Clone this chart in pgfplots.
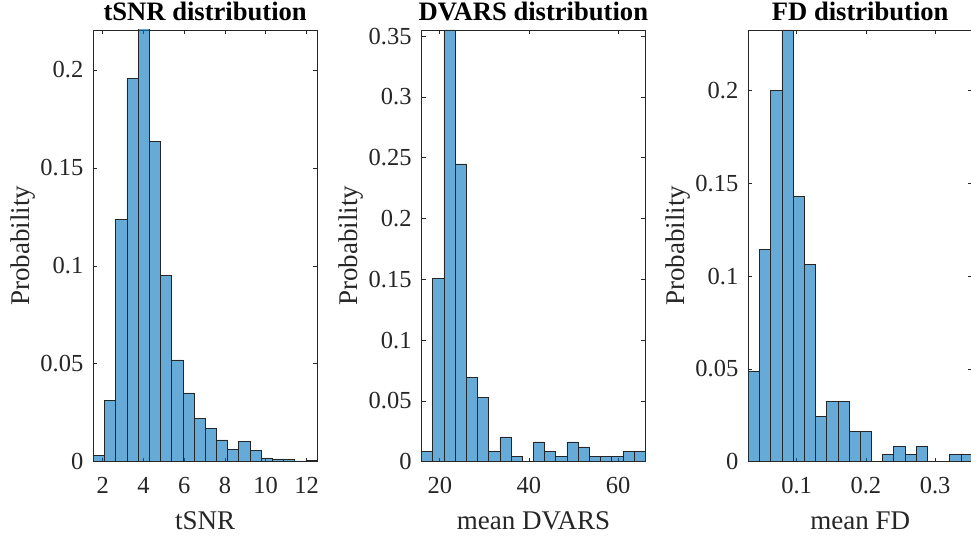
\documentclass[border=0pt]{standalone}
\usepackage{fontspec}
\setmainfont{Liberation Serif}
\usepackage{pgfplots}
\pgfplotsset{compat=1.18}
\definecolor{matblue}{rgb}{0,0.447,0.741}
\definecolor{axgray}{rgb}{0.15,0.15,0.15}
\pgfplotsset{
  histax/.style={
    scale only axis, width=223.8pt, height=431.7pt,
    anchor=south west,
    axis line style={axgray, line width=0.6pt},
    tick style={axgray, line width=0.6pt},
    major tick length=4pt,
    tick align=inside,
    xtick pos=both, ytick pos=both,
    ymin=0,
    scaled ticks=false,
    /pgf/number format/assume math mode=true,
    tick label style={font=\fontsize{24.5}{28}\selectfont, text=axgray},
    yticklabel style={anchor=east, inner sep=0pt, xshift=-9.8pt},
    xticklabel style={anchor=base, inner sep=0pt, yshift=-32.3pt},
    label style={font=\fontsize{27}{30}\selectfont, text=axgray},
    xlabel style={at={(axis description cs:0.5,-0.1582)}, anchor=base},
    ylabel style={at={(axis description cs:-0.2855,0.5)}, anchor=base},
    every axis title/.style={font=\bfseries\fontsize{26.6}{30}\selectfont, text=black, inner sep=0pt, at={(axis description cs:0.5,1.0225)}, anchor=base},
    ylabel={Probability},
  },
  histbar/.style={ybar interval, fill=matblue, fill opacity=0.6, draw=axgray, draw opacity=1, line width=0.6pt},
}
\begin{document}
\begin{tikzpicture}
\path[use as bounding box] (0,0) rectangle (971pt,540pt);
% Panel 1: tSNR
\begin{axis}[histax, at={(93.3pt,78.3pt)},
  xmin=1.54, xmax=12.52, ymax=0.2204,
  xtick={2,4,6,8,10,12}, xticklabels={2,4,6,8,10,12},
  ytick={0,0.05,0.1,0.15,0.2}, yticklabels={0,0.05,0.1,0.15,0.2},
  title={tSNR distribution}, xlabel={tSNR}]
\addplot[histbar] coordinates {
(1.540,0.0032) (2.089,0.0313) (2.638,0.1239) (3.187,0.1956) (3.736,0.2219)
(4.285,0.1636) (4.834,0.0953) (5.383,0.0520) (5.932,0.0351) (6.481,0.0220)
(7.030,0.0170) (7.579,0.0111) (8.128,0.0062) (8.677,0.0104) (9.226,0.0056)
(9.775,0.0019) (10.324,0.0014) (10.873,0.0010) (11.422,0.0004) (11.971,0.0008)
(12.520,0.0008)};
\end{axis}
% Panel 2: DVARS
\begin{axis}[histax, at={(421.5pt,78.3pt)},
  xmin=15.9, xmax=66.1, ymax=0.3551,
  xtick={20,40,60}, xticklabels={20,40,60},
  ytick={0,0.05,0.1,0.15,0.2,0.25,0.3,0.35}, yticklabels={0,0.05,0.1,0.15,0.2,0.25,0.3,0.35},
  title={DVARS distribution}, xlabel={mean DVARS}]
\addplot[histbar] coordinates {
(15.90,0.00816) (18.41,0.15102) (20.92,0.35510) (23.43,0.24490) (25.94,0.06939)
(28.45,0.05306) (30.96,0.00816) (33.47,0.02041) (35.98,0.00408) (38.49,0)
(41.00,0.01633) (43.51,0.00816) (46.02,0.00408) (48.53,0.01633) (51.04,0.01224)
(53.55,0.00408) (56.06,0.00408) (58.57,0.00408) (61.08,0.00816) (63.59,0.00816)
(66.10,0.00816)};
\end{axis}
% Panel 3: FD
\begin{axis}[histax, at={(748.3pt,78.3pt)},
  xmin=0.0302, xmax=0.3534, ymax=0.23265,
  xtick={0.1,0.2,0.3}, xticklabels={0.1,0.2,0.3},
  ytick={0,0.05,0.1,0.15,0.2}, yticklabels={0,0.05,0.1,0.15,0.2},
  title={FD distribution}, xlabel={mean FD}]
\addplot[histbar] coordinates {
(0.03020,0.04898) (0.04636,0.11429) (0.06252,0.20000) (0.07868,0.23265) (0.09484,0.14286)
(0.11100,0.10612) (0.12716,0.02449) (0.14332,0.03265) (0.15948,0.03265) (0.17564,0.01633)
(0.19180,0.01633) (0.20796,0) (0.22412,0.00408) (0.24028,0.00816) (0.25644,0.00408)
(0.27260,0.00816) (0.28876,0) (0.30492,0) (0.32108,0.00408) (0.33724,0.00408)
(0.35340,0.00408)};
\end{axis}
\end{tikzpicture}
\end{document}
